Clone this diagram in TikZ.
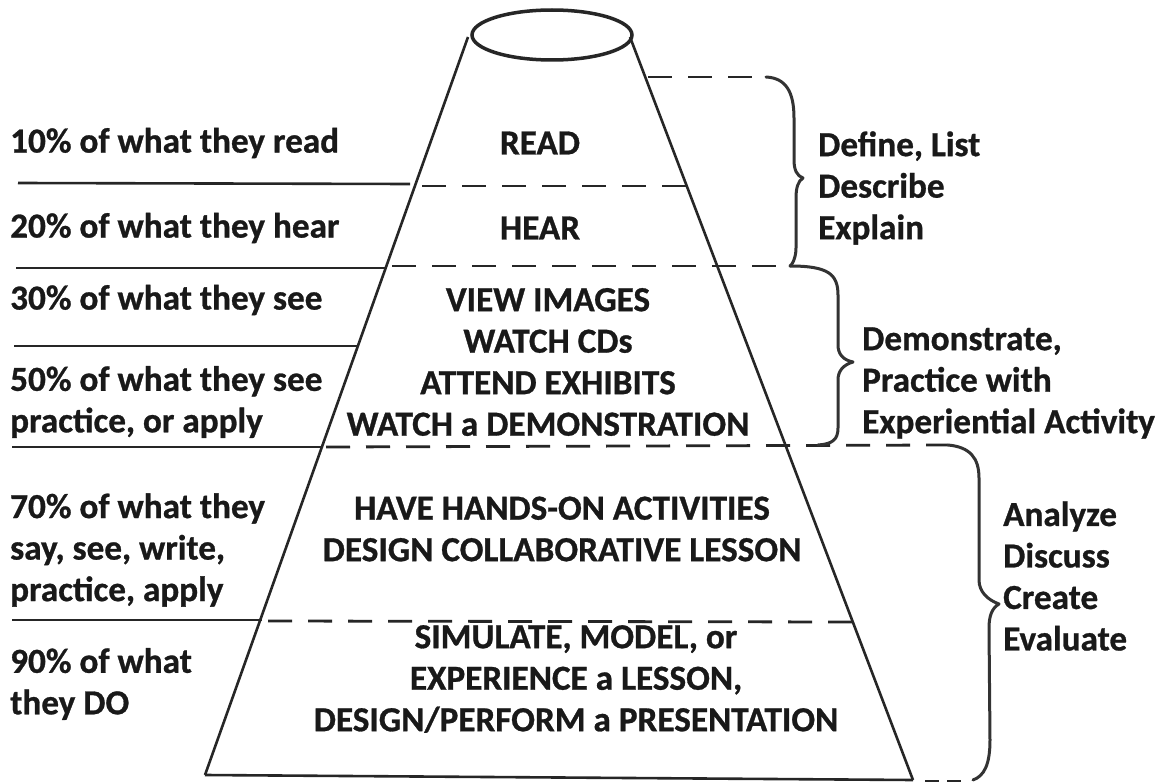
\documentclass[tikz,border=0pt]{standalone}
\usepackage{fontspec}
\setmainfont{Carlito}[BoldFeatures={FakeBold=0.8}]
\begin{document}
\begin{tikzpicture}[x=1pt,y=-1pt,
  lbl/.style={font=\fontsize{35.2}{41.5}\selectfont\bfseries, inner sep=0pt, text=black!90},
  lleft/.style={lbl, anchor=west, align=left},
  lcent/.style={lbl, anchor=center, align=center},
  edge/.style={line width=2.6pt, black!85},
  solidln/.style={line width=2.6pt, black!85},
  dashln/.style={line width=2.8pt, black!85, dash pattern=on 24pt off 16pt},
  bracestyle/.style={line width=3pt, black!80, line cap=round, line join=round}]
\useasboundingbox (0,0) rectangle (1171,784);
\fill[white] (0,0) rectangle (1171,784);

% pyramid
\coordinate (tl) at (468,37);
\coordinate (tr) at (630,37);
\coordinate (bl) at (205,775);
\coordinate (br) at (913,780);
\draw[line width=3.5pt, black!85] (552,35) ellipse [x radius=80pt, y radius=25pt];
\draw[edge] (tl) -- (bl);
\draw[edge] (tr) -- (br);
\draw[edge] (bl) -- (br);

% horizontal lines
\coordinate (a1) at (18,183);  \coordinate (a2) at (410,184);
\draw[solidln] (a1) -- (a2);
\coordinate (b1) at (422,186); \coordinate (b2) at (690,186);
\draw[dashln] (b1) -- (b2);
\coordinate (c1) at (16,268);  \coordinate (c2) at (386,268);
\draw[solidln] (c1) -- (c2);
\coordinate (d1) at (392,266); \coordinate (d2) at (790,266);
\draw[dashln] (d1) -- (d2);
\coordinate (e1) at (14,346);  \coordinate (e2) at (358,346);
\draw[solidln] (e1) -- (e2);
\coordinate (f1) at (12,447);  \coordinate (f2) at (322,447);
\draw[solidln] (f1) -- (f2);
\coordinate (g1) at (326,447); \coordinate (g2) at (948,445);
\draw[dashln] (g1) -- (g2);
\coordinate (h1) at (12,620);  \coordinate (h2) at (262,620);
\draw[solidln] (h1) -- (h2);
\coordinate (i1) at (268,621); \coordinate (i2) at (852,622);
\draw[dashln] (i1) -- (i2);
\coordinate (j1) at (648,77);  \coordinate (j2) at (766,77);
\draw[dashln] (j1) -- (j2);
\coordinate (k1) at (925,781); \coordinate (k2) at (965,781);
\draw[line width=2.8pt, black!85, dash pattern=on 14pt off 8pt] (k1) -- (k2);

% braces
\draw[bracestyle] (j2) .. controls (786,78) and (794,92) .. (794,118)
  -- (794,160) .. controls (794,170) and (797,176) .. (803,178)
  .. controls (798,181) and (796,188) .. (796,198)
  -- (796,248) .. controls (796,258) and (792,265) .. (d2);
\draw[bracestyle] (d2) .. controls (828,266) and (838,274) .. (838,295)
  -- (838,345) .. controls (838,354) and (843,360) .. (853,362)
  .. controls (843,365) and (838,371) .. (838,380)
  -- (838,428) .. controls (838,440) and (832,444) .. (818,445);
\draw[bracestyle] (g2) .. controls (970,447) and (979,458) .. (979,478)
  -- (979,580) .. controls (979,592) and (988,600) .. (999,604)
  .. controls (992,608) and (989,616) .. (989,628)
  -- (990,740) .. controls (990,765) and (984,776) .. (973,780);

% left labels
\node[lleft] (l10) at (10,143) {10\% of what they read};
\node[lleft] (l20) at (10,228) {20\% of what they hear};
\node[lleft] (l30) at (10,300) {30\% of what they see};
\node[lleft] (l50) at (10,402) {50\% of what they see\\practice, or apply};
\node[lleft] (l70) at (10,550) {70\% of what they\\say, see, write,\\practice, apply};
\node[lleft] (l90) at (10,684) {90\% of what\\they DO};

% center labels
\node[lcent] (read) at (540,143) {READ};
\node[lcent] (hear) at (540,228) {HEAR};
\node[lcent] (view) at (548,362) {VIEW IMAGES\\WATCH CDs\\ATTEND EXHIBITS\\WATCH a DEMONSTRATION};
\node[lcent] (hands) at (562,529) {HAVE HANDS-ON ACTIVITIES\\DESIGN COLLABORATIVE LESSON};
\node[lcent] (sim) at (576,679) {SIMULATE, MODEL, or\\EXPERIENCE a LESSON,\\DESIGN/PERFORM a PRESENTATION};

% right labels
\node[lleft] (r1) at (818,188) {Define, List\\Describe\\Explain};
\node[lleft] (r2) at (862,383) {Demonstrate,\\Practice with\\Experiential Activity};
\node[lleft] (r3) at (1003,576) {Analyze\\Discuss\\Create\\Evaluate};
\end{tikzpicture}
\end{document}
